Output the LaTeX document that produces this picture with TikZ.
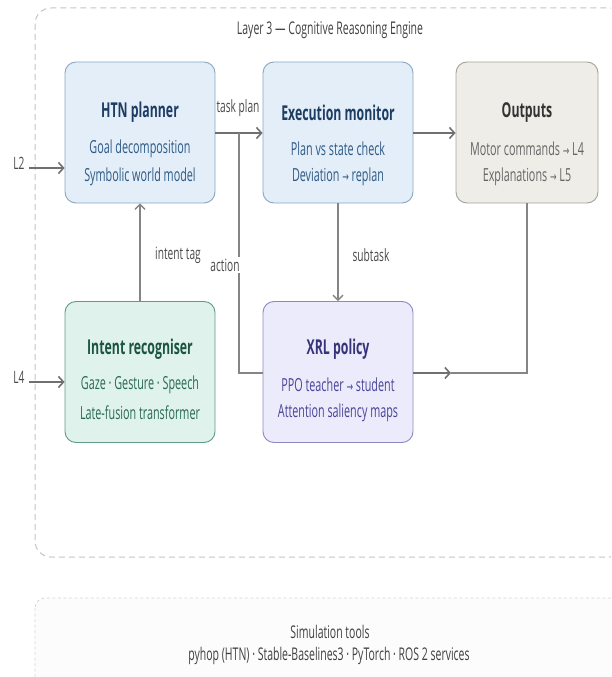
\documentclass[tikz,border=0pt]{standalone}
\usepackage{fontspec}
\setmainfont{Open Sans}[FakeStretch=0.6]
\newfontfamily\symfont{DejaVu Sans}[FakeStretch=0.6]
\newcommand\myarrow{{\symfont\fontsize{13}{15}\selectfont →}}
\usetikzlibrary{arrows.meta,calc}
\definecolor{frame}{HTML}{C4C4C4}
\definecolor{arr}{HTML}{707070}
\definecolor{lbl}{HTML}{4A4A4A}
\definecolor{bluefill}{HTML}{E3EEF9}
\definecolor{blueline}{HTML}{8AA6C2}
\definecolor{bluetitle}{HTML}{1E3D63}
\definecolor{bluetext}{HTML}{2E5A86}
\definecolor{greyfill}{HTML}{EFEDE7}
\definecolor{greyline}{HTML}{A3A19A}
\definecolor{greytitle}{HTML}{333333}
\definecolor{greytext}{HTML}{666666}
\definecolor{greenfill}{HTML}{DFF2EB}
\definecolor{greenline}{HTML}{5E9C84}
\definecolor{greentitle}{HTML}{1C5443}
\definecolor{greentext}{HTML}{2A6A55}
\definecolor{purplefill}{HTML}{ECEBFB}
\definecolor{purpleline}{HTML}{8C88C2}
\definecolor{purpletitle}{HTML}{36337A}
\definecolor{purpletext}{HTML}{48449A}
\tikzset{
  x=1pt,y=-1pt,
  box/.style={draw,line width=0.9pt,rounded corners=11pt,minimum width=150pt,minimum height=141pt,inner sep=0pt},
  bluebox/.style={box,fill=bluefill,draw=blueline},
  greybox/.style={box,fill=greyfill,draw=greyline,minimum width=142pt},
  greenbox/.style={box,fill=greenfill,draw=greenline},
  purplebox/.style={box,fill=purplefill,draw=purpleline},
  ttl/.style={font=\fontsize{20.5}{24}\selectfont\bfseries,inner sep=0pt},
  sub/.style={font=\fontsize{18}{21}\selectfont,inner sep=0pt},
  lab/.style={font=\fontsize{17}{20}\selectfont,text=lbl,inner sep=1pt},
  head/.style={font=\fontsize{17.5}{20}\selectfont,text=black!75},
  conn/.style={draw=arr,line width=1.9pt,-{Straight Barb[length=5pt,width=11pt,line width=1.6pt]}},
  thin/.style={draw=arr!85,line width=1.3pt},
  thinarr/.style={thin,-{Straight Barb[length=5pt,width=10pt,line width=1.3pt]}},
}
\begin{document}
\begin{tikzpicture}
\useasboundingbox (0,0) rectangle (611,677);
\clip (0,0) rectangle (611,677);
% frames
\draw[frame,line width=1pt,dash pattern=on 6pt off 4pt,rounded corners=16pt] (35,8) rectangle (625,557);
\draw[frame!70,fill=black!1,line width=0.8pt,dash pattern=on 3pt off 2.5pt,rounded corners=10pt] (35,598) rectangle (625,720);
\node[head] (layertitle) at (330,30) {Layer 3 — Cognitive Reasoning Engine};
\node[head] (simtitle) at (330,632) {Simulation tools};
\node[head] (simtools) at (329,656) {pyhop (HTN) · Stable-Baselines3 · PyTorch · ROS 2 services};
% boxes
\node[bluebox] (htn) at (140,132.5) {};
\node[bluebox] (mon) at (338,132.5) {};
\node[greybox] (out) at (527,132.5) {};
\node[greenbox] (int) at (140,372) {};
\node[purplebox] (xrl) at (338,372) {};
% box texts
\node[ttl,text=bluetitle] (htn1) at ($(htn.north)+(0,51)$) {HTN planner};
\node[sub,text=bluetext] (htn2) at ($(htn.north)+(0,87)$) {Goal decomposition};
\node[sub,text=bluetext] (htn3) at ($(htn.north)+(0,115)$) {Symbolic world model};
\node[ttl,text=bluetitle] (mon1) at ($(mon.north)+(0,51)$) {Execution monitor};
\node[sub,text=bluetext] (mon2) at ($(mon.north)+(0,87)$) {Plan vs state check};
\node[sub,text=bluetext] (mon3) at ($(mon.north)+(0,115)$) {Deviation \myarrow{} replan};
\node[ttl,text=greytitle] (out1) at ($(out.north)+(0,51)$) {Outputs};
\node[sub,text=greytext] (out2) at ($(out.north)+(0,87)$) {Motor commands \myarrow{} L4};
\node[sub,text=greytext] (out3) at ($(out.north)+(0,115)$) {Explanations \myarrow{} L5};
\node[ttl,text=greentitle] (int1) at ($(int.north)+(0,48)$) {Intent recogniser};
\node[sub,text=greentext] (int2) at ($(int.north)+(0,84)$) {Gaze · Gesture · Speech};
\node[sub,text=greentext] (int3) at ($(int.north)+(0,112)$) {Late-fusion transformer};
\node[ttl,text=purpletitle] (xrl1) at ($(xrl.north)+(0,48)$) {XRL policy};
\node[sub,text=purpletext] (xrl2) at ($(xrl.north)+(0,84)$) {PPO teacher \myarrow{} student};
\node[sub,text=purpletext] (xrl3) at ($(xrl.north)+(0,112)$) {Attention saliency maps};
% external inputs
\node[lab] (l2) at (19,163) {L2};
\node[lab] (l4) at (19,377) {L4};
\draw[conn] (29,168) -- (htn.west |- 0,168);
\draw[conn] (29,382) -- (int.west |- 0,382);
% task plan
\coordinate (junction) at (239,133);
\coordinate (xrlturn) at (239,373);
\draw[conn] (htn.east |- 0,133) -- (mon.west |- 0,133);
\node[lab] (tplab) at (238,108) {task plan};
% action
\draw[thin] (xrl.west |- 0,373) -- (xrlturn) -- (junction);
\node[lab,fill=white,inner sep=2pt] (actlab) at (225,265) {action};
% intent tag
\draw[thinarr] (int.north) -- (htn.south);
\node[lab] (itlab) at (178,255) {intent tag};
% subtask
\draw[thinarr] (mon.south) -- (xrl.north);
\node[lab] (stlab) at (371,255) {subtask};
% monitor to outputs
\draw[conn] (mon.east |- 0,133) -- (out.west |- 0,133);
% xrl to outputs
\coordinate (xrltip) at (451,373);
\coordinate (outturn) at (527,373);
\draw[conn] (xrl.east |- 0,373) -- (xrltip);
\draw[thin] (xrltip) -- (outturn) -- (out.south);
\end{tikzpicture}
\end{document}
